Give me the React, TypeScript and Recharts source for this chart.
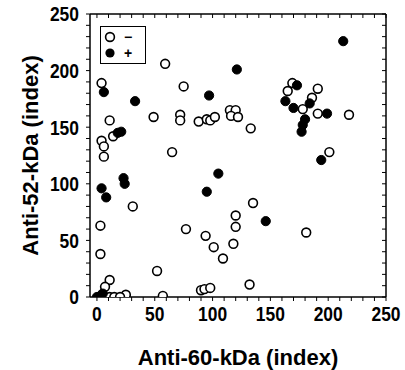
import { ScatterChart, Scatter, XAxis, YAxis, Legend } from 'recharts';

// anti-60-kDa / anti-52-kDa index pairs
// "−" group (open circles)
const negX = [4, 59, 75, 11, 49, 72, 72, 88, 95, 98, 102, 115, 120, 116, 122, 14, 4, 6, 6, 65,
  169, 165, 191, 186, 178, 191, 218, 133, 201, 31, 120, 120, 77, 3, 94, 101, 118, 3, 109, 52,
  11, 7, 90, 93, 98, 57, 25, 11, 15, 20, 135, 181, 132];
const negY = [189, 206, 186, 156, 159, 161, 156, 155, 157, 156, 159, 165, 165, 160, 159, 142, 138, 133, 124, 128,
  189, 182, 184, 176, 166, 162, 161, 149, 128, 80, 72, 62, 60, 63, 54, 44, 47, 38, 34, 23,
  15, 9, 6, 7, 8, 1, 2, 0, 0, 0, 83, 57, 11];

// "+" group (filled circles)
const posX = [6, 33, 97, 121, 213, 173, 163, 184, 170, 180, 178, 177, 199, 194, 18, 21, 23, 24, 4, 8,
  105, 95, 146, 0, 3, 5];
const posY = [181, 173, 178, 201, 226, 187, 173, 171, 167, 157, 152, 146, 162, 121, 145, 146, 105, 100, 96, 88,
  109, 93, 67, 0, 1, 3];

const labelTicks = [0, 50, 100, 150, 200, 250];
const minorTicks = [0, 10, 20, 30, 40, 50, 60, 70, 80, 90, 100, 110, 120, 130, 140, 150, 160, 170, 180, 190,
  200, 210, 220, 230, 240, 250];

const negative = negX.map((x, i) => ({ x, y: negY[i] }));
const positive = posX.map((x, i) => ({ x, y: posY[i] }));

const titleFont = '"Liberation Sans", Arial, sans-serif';

const OpenDot = (p: any) => (
  <circle cx={p.cx} cy={p.cy} r={4.4} fill="#fff" stroke="#000" strokeWidth={1.6} />
);
const FilledDot = (p: any) => (
  <circle cx={p.cx} cy={p.cy} r={4.6} fill="#000" stroke="#000" strokeWidth={1} />
);

// condensed bold digits, like the original's narrow font
const XTick = ({ x, y, payload }: any) => {
  if (!labelTicks.includes(payload.value)) return <g />;
  return (
    <text transform={`translate(${x},${y}) scale(0.85,1)`} dy="0.71em" textAnchor="middle"
      fontFamily={titleFont} fontWeight="bold" fontSize={20.5} fill="#000">
      {payload.value}
    </text>
  );
};

const YTick = ({ x, y, payload }: any) => {
  if (!labelTicks.includes(payload.value)) return <g />;
  return (
    <text transform={`translate(${x},${y}) scale(0.85,1)`} dy="0.36em" textAnchor="end"
      fontFamily={titleFont} fontWeight="bold" fontSize={20.5} fill="#000">
      {payload.value}
    </text>
  );
};

const NoTick = () => <g />;

const LegendBox = () => (
  <div style={{ width: 44, height: 36, border: '1.5px solid #000', background: '#fff', position: 'relative' }}>
    <svg width={44} height={36} style={{ position: 'absolute', left: 0, top: 0 }}>
      <circle cx={9} cy={10} r={4.4} fill="#fff" stroke="#000" strokeWidth={1.6} />
      <text x={27} y={10} dy="0.36em" textAnchor="middle" fontFamily={titleFont} fontWeight="bold" fontSize={14}>−</text>
      <circle cx={9} cy={26} r={4.6} fill="#000" />
      <text x={27} y={26} dy="0.36em" textAnchor="middle" fontFamily={titleFont} fontWeight="bold" fontSize={14}>+</text>
    </svg>
  </div>
);

const YTitle = ({ viewBox }: any) => {
  const cy = viewBox ? viewBox.y + viewBox.height / 2 : 156;
  return (
    <text x={38} y={cy} transform={`rotate(-90, 38, ${cy})`} textAnchor="middle"
      fontFamily={titleFont} fontWeight="bold" fontSize={22} fill="#000">
      Anti-52-kDa (index)
    </text>
  );
};

export default function App() {
  return (
    <div style={{ position: 'absolute', left: 0, top: 0, background: '#fff' }}>
      <ScatterChart width={405} height={370} margin={{ top: 14, right: 19, bottom: 0, left: 0 }}>
        <XAxis
          xAxisId="b"
          type="number"
          dataKey="x"
          domain={[-6, 250]}
          ticks={minorTicks}
          interval={0}
          allowDataOverflow
          height={73}
          tickSize={4}
          tickMargin={5}
          axisLine={{ stroke: '#000', strokeWidth: 1.5 }}
          tickLine={{ stroke: '#000', strokeWidth: 1 }}
          tick={<XTick />}
          label={{
            value: 'Anti-60-kDa (index)',
            position: 'insideBottom',
            offset: 5,
            style: { fontFamily: titleFont, fontWeight: 'bold', fontSize: 22, fill: '#000' },
          }}
        />
        <XAxis
          xAxisId="t"
          orientation="top"
          mirror
          type="number"
          dataKey="x"
          domain={[-6, 250]}
          ticks={minorTicks}
          interval={0}
          allowDataOverflow
          tickSize={4}
          axisLine={{ stroke: '#000', strokeWidth: 1.5 }}
          tickLine={{ stroke: '#000', strokeWidth: 1 }}
          tick={<NoTick />}
        />
        <YAxis
          yAxisId="l"
          type="number"
          dataKey="y"
          domain={[0, 250]}
          ticks={minorTicks}
          interval={0}
          allowDataOverflow
          width={90}
          tickSize={4}
          tickMargin={7}
          axisLine={{ stroke: '#000', strokeWidth: 1.5 }}
          tickLine={{ stroke: '#000', strokeWidth: 1 }}
          tick={<YTick />}
          label={<YTitle />}
        />
        <YAxis
          yAxisId="r"
          orientation="right"
          mirror
          type="number"
          dataKey="y"
          domain={[0, 250]}
          ticks={minorTicks}
          interval={0}
          allowDataOverflow
          tickSize={4}
          axisLine={{ stroke: '#000', strokeWidth: 1.5 }}
          tickLine={{ stroke: '#000', strokeWidth: 1 }}
          tick={<NoTick />}
        />
        <Legend
          verticalAlign="middle"
          align="center"
          layout="horizontal"
          content={<LegendBox />}
          wrapperStyle={{ left: 100, top: 26, width: 47, height: 39 }}
        />
        <Scatter name="−" data={negative} xAxisId="b" yAxisId="l" shape={OpenDot} isAnimationActive={false} />
        <Scatter name="+" data={positive} xAxisId="b" yAxisId="l" shape={FilledDot} isAnimationActive={false} />
      </ScatterChart>
    </div>
  );
}
